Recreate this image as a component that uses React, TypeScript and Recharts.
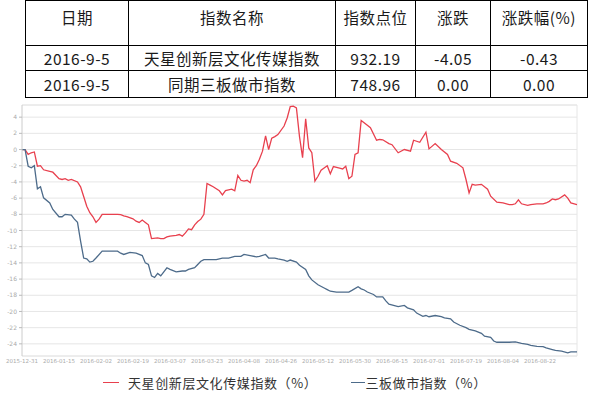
import React from 'react'
import { LineChart, Line, XAxis, YAxis, CartesianGrid, ReferenceLine } from 'recharts'

// trading-day index 0..180, label every 12th day
const X_LABELS = [
  '2015-12-31', '2016-01-15', '2016-02-02', '2016-02-19', '2016-03-07',
  '2016-03-23', '2016-04-08', '2016-04-26', '2016-05-12', '2016-05-30',
  '2016-06-15', '2016-07-01', '2016-07-19', '2016-08-04', '2016-08-22',
]
const Y_TICKS = [4, 2, 0, -2, -4, -6, -8, -10, -12, -14, -16, -18, -20, -22, -24]

const RED_X = [
  0, 1, 2, 3, 4, 5, 6, 7, 9, 10, 12, 13, 14, 15, 16, 18, 19, 20, 21, 22, 23, 24, 25, 26, 28,
  31, 32, 33, 34, 36, 37, 38, 39, 40, 41, 42, 44, 45, 46, 47, 48, 50, 51, 52, 53, 54, 55, 56,
  57, 58, 59, 60, 61, 62, 64, 65, 66, 68, 69, 70, 71, 72, 73, 74, 75, 76, 77, 78, 79, 80, 81,
  82, 83, 85, 86, 87, 88, 89, 90, 91, 92, 93, 94, 95, 96, 97, 99, 100, 101, 103, 104, 105, 106,
  107, 108, 109, 110, 112, 113, 115, 116, 117, 119, 120, 122, 124, 126, 127, 129, 131, 132, 134,
  136, 138, 139, 141, 143, 144, 145, 146, 147, 149, 151, 152, 154, 156, 158, 159, 160, 161, 162,
  164, 165, 167, 169, 170, 171, 172, 173, 174, 176, 177, 178, 180,
]
const RED_Y = [
  0, 0, -0.6, -0.4, -0.3, -2.06, -2.0, -2.5, -2.7, -2.8, -3.6, -3.7, -3.6, -3.8, -3.7, -4.0, -4.6,
  -5.8, -7.0, -7.8, -8.3, -9.0, -8.6, -8.0, -8.0, -8.0, -8.05, -8.2, -8.3, -8.55, -8.85, -9.0, -8.7,
  -9.0, -9.3, -11.0, -10.9, -11.0, -11.0, -10.8, -10.7, -10.6, -10.5, -10.7, -10.3, -9.8, -9.9, -9.3,
  -8.9, -8.6, -8.0, -4.2, -4.4, -4.6, -5.1, -5.6, -5.06, -4.9, -5.1, -3.2, -3.8, -3.9, -3.8, -4.1,
  -2.5, -2.0, -1.2, -0.2, 1.7, 0, 1.4, 1.6, 1.85, 2.9, 3.9, 5.3, 5.35, 5.15, 1.6, -1.0, 3.8, 0.2,
  -0.4, -3.9, -3.3, -2.55, -2.0, -3.0, -2.1, -2.3, -2.4, -2.06, -3.6, -3.3, -0.6, -0.4, 3.6, 3.0,
  2.7, 1.15, 1.24, 1.2, 0.74, 0.6, -0.4, 0, -0.2, 1.15, 0.9, 2.14, 0.08, 0.74, 0, -0.6, -1.44, -1.7,
  -2.26, -3.7, -5.35, -4.3, -4.4, -4.3, -4.9, -5.76, -6.5, -6.6, -6.8, -6.8, -6.7, -6.2, -6.7, -6.9,
  -6.8, -6.7, -6.7, -6.6, -6.4, -6.1, -6.2, -6.1, -5.6, -6.0, -6.6, -6.8,
]

const BLUE_X = [
  0, 1, 2, 3, 4, 5, 6, 7, 9, 10, 12, 13, 14, 16, 17, 18, 19, 20, 21, 22, 23, 24, 26, 27, 31, 32,
  33, 35, 37, 39, 40, 41, 42, 43, 44, 45, 47, 48, 50, 52, 53, 54, 56, 57, 58, 59, 61, 63, 64, 65,
  67, 69, 71, 72, 74, 76, 77, 79, 80, 82, 83, 85, 86, 87, 89, 90, 92, 93, 94, 96, 98, 99, 100,
  102, 104, 106, 107, 109, 110, 111, 112, 114, 115, 117, 118, 119, 122, 124, 125, 127, 128, 130,
  131, 132, 134, 136, 137, 139, 140, 142, 144, 145, 147, 149, 150, 152, 153, 154, 158, 160, 162,
  164, 165, 167, 169, 170, 172, 173, 175, 177, 178, 180,
]
const BLUE_Y = [
  0, 0, -2.06, -2.26, -2.0, -4.85, -4.6, -5.97, -6.6, -7.4, -8.3, -8.3, -8.0, -8.1, -8.6, -9.0,
  -11.3, -13.4, -13.5, -13.9, -13.8, -13.4, -12.55, -12.55, -12.55, -12.8, -12.96, -12.7, -12.8,
  -13.1, -14.0, -14.2, -15.6, -15.8, -15.3, -15.6, -14.6, -14.8, -15.1, -15.0, -15.0, -14.8, -14.6,
  -14.2, -13.8, -13.6, -13.6, -13.6, -13.5, -13.4, -13.4, -13.2, -13.2, -12.96, -13.1, -13.25,
  -13.2, -12.96, -13.4, -13.4, -13.5, -13.65, -13.8, -13.65, -13.9, -14.3, -14.8, -15.6, -16.1,
  -16.7, -17.1, -17.3, -17.5, -17.6, -17.6, -17.6, -17.4, -16.95, -17.2, -17.35, -17.6, -17.9,
  -18.2, -18.2, -18.7, -19.1, -19.4, -19.26, -19.55, -19.8, -20.2, -20.6, -20.5, -20.65, -20.5,
  -20.65, -20.8, -20.9, -21.3, -21.7, -22.0, -22.2, -22.4, -22.7, -23.05, -23.2, -23.65, -23.8,
  -23.8, -23.75, -23.95, -24.07, -24.2, -24.3, -24.35, -24.5, -24.7, -24.8, -24.9, -25.1, -25.0,
  -25.0,
]

const TABLE_HEAD = ['日期', '指数名称', '指数点位', '涨跌', '涨跌幅(%)']
const TABLE_ROWS = [
  ['2016-9-5', '天星创新层文化传媒指数', '932.19', '-4.05', '-0.43'],
  ['2016-9-5', '同期三板做市指数', '748.96', '0.00', '0.00'],
]
const COL_W = [103, 207, 80, 75, 97]

const RED = '#e8404e'
const BLUE = '#4d6b8a'
const FONT = '"Noto Sans CJK SC", "Noto Sans", sans-serif'

const redData = RED_X.map((x, i) => ({ x, v: RED_Y[i] }))
const blueData = BLUE_X.map((x, i) => ({ x, v: BLUE_Y[i] }))
const xTicks = X_LABELS.map((_, i) => i * 12)

const cell: React.CSSProperties = {
  border: '1.5px solid #000',
  textAlign: 'center',
  padding: 0,
  fontSize: 15.5,
  color: '#1a1a1a',
  letterSpacing: 0.5,
}

export default function App() {
  return (
    <div style={{ position: 'relative', width: 592, height: 409, background: '#fff', fontFamily: FONT }}>
      <style>{'body{margin:0}'}</style>
      <table
        style={{
          position: 'absolute', left: 25, top: 0, borderCollapse: 'collapse',
          tableLayout: 'fixed', width: 562,
        }}
      >
        <colgroup>
          {COL_W.map((w, i) => <col key={i} style={{ width: w }} />)}
        </colgroup>
        <tbody>
          <tr style={{ height: 45 }}>
            {TABLE_HEAD.map(h => (
              <td key={h} style={{ ...cell, verticalAlign: 'top', paddingTop: 5 }}>{h}</td>
            ))}
          </tr>
          {TABLE_ROWS.map((r, ri) => (
            <tr key={ri} style={{ height: ri === 0 ? 25 : 27 }}>
              {r.map((c, ci) => <td key={ci} style={cell}>{c}</td>)}
            </tr>
          ))}
        </tbody>
      </table>

      <div style={{ position: 'absolute', left: 0, top: 95 }}>
        <LineChart width={592} height={314} margin={{ top: 10, right: 15, bottom: 39, left: 0 }}>
          <CartesianGrid vertical={false} stroke="#e6e6e6" />
          <XAxis
            type="number"
            dataKey="x"
            domain={[0, 180]}
            ticks={xTicks}
            interval={0}
            tickFormatter={(v: number) => X_LABELS[Math.round(v / 12)]}
            tick={{ fontSize: 5.5, fill: '#aaa', fontFamily: 'DejaVu Sans' }}
            tickSize={0}
            tickMargin={3}
            height={14}
            axisLine={{ stroke: '#e6e6e6' }}
            allowDataOverflow
          />
          <YAxis
            type="number"
            domain={[-25.5, 5.5]}
            ticks={Y_TICKS}
            interval={0}
            width={22}
            tick={{ fontSize: 6, fill: '#aaa', fontFamily: 'DejaVu Sans' }}
            tickSize={3}
            tickLine={{ stroke: '#bbb' }}
            axisLine={{ stroke: '#ccc' }}
            allowDataOverflow
          />
          <ReferenceLine y={5.5} stroke="#e6e6e6" />
          <ReferenceLine x={180} stroke="#e6e6e6" />
          <Line data={redData} dataKey="v" type="linear" stroke={RED} strokeWidth={1.3} dot={false} isAnimationActive={false} />
          <Line data={blueData} dataKey="v" type="linear" stroke={BLUE} strokeWidth={1.3} dot={false} isAnimationActive={false} />
        </LineChart>
      </div>

      <div
        style={{
          position: 'absolute', top: 373, left: 103, fontSize: 13, color: '#333',
          display: 'flex', alignItems: 'center', whiteSpace: 'nowrap', letterSpacing: 0.6,
        }}
      >
        <span style={{ display: 'inline-block', width: 16, height: 1.5, background: RED, marginRight: 9 }} />
        <span>天星创新层文化传媒指数（%）</span>
        <span style={{ display: 'inline-block', width: 14, height: 1.5, background: BLUE, marginLeft: 34 }} />
        <span>三板做市指数（%）</span>
      </div>
    </div>
  )
}
